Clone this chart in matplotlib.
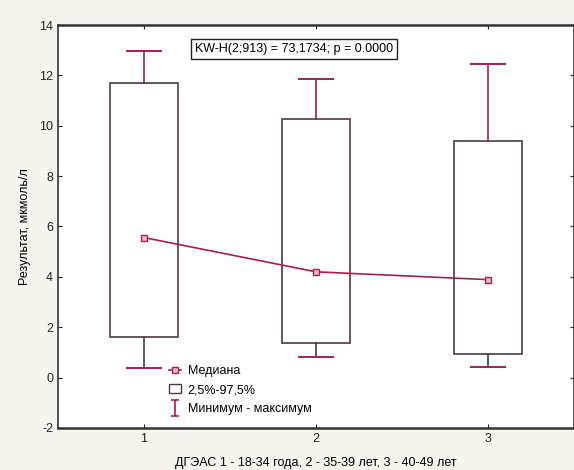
import matplotlib.pyplot as plt
from matplotlib.lines import Line2D
from matplotlib.patches import Rectangle
from matplotlib.path import Path

groups = [1, 2, 3]
medians = [5.56, 4.2, 3.89]
box_low = [1.63, 1.39, 0.95]    # 2,5%
box_high = [11.7, 10.28, 9.4]   # 97,5%
mins = [0.4, 0.83, 0.44]
maxs = [12.98, 11.87, 12.46]
yticks = [-2, 0, 2, 4, 6, 8, 10, 12, 14]

RED = '#a3204c'
EDGE = '#4a3a40'

plt.rcParams['font.family'] = ['Liberation Sans', 'DejaVu Sans']
plt.rcParams['axes.unicode_minus'] = False

fig = plt.figure(figsize=(5.74, 4.70), dpi=100, facecolor='#f6f4ef')
ax = fig.add_axes([0.101, 0.0894, 0.899, 0.8574])
ax.set_facecolor('white')

bw = 0.4
cw = 0.2
for x, lo, hi, mn, mx in zip(groups, box_low, box_high, mins, maxs):
    ax.add_patch(Rectangle((x - bw / 2, lo), bw, hi - lo, facecolor='white',
                           edgecolor=EDGE, lw=1.2, zorder=2))
    ax.plot([x, x], [hi, mx], color=RED, lw=1.2, zorder=2)
    ax.plot([x, x], [mn, lo], color=EDGE, lw=1.2, zorder=2)
    ax.plot([x - cw / 2, x + cw / 2], [mx, mx], color=RED, lw=1.4, zorder=2)
    ax.plot([x - cw / 2, x + cw / 2], [mn, mn], color=RED, lw=1.4, zorder=2)

ax.plot(groups, medians, color=RED, lw=1.2, marker='s', ms=4,
        mfc='#e9b8c8', mec=RED, zorder=3)

ax.set_xlim(0.5, 3.5)
ax.set_ylim(-2, 14)
ax.set_xticks(groups)
ax.set_yticks(yticks)
ax.tick_params(direction='in', length=3, labelsize=9, right=True, top=True,
               colors='#222222')
for s in ax.spines.values():
    s.set_color('#333333')
    s.set_linewidth(1.2)
ax.spines['bottom'].set_linewidth(1.8)
ax.spines['top'].set_linewidth(1.8)

ax.set_ylabel('Результат, мкмоль/л', fontsize=9, labelpad=6)
ax.set_xlabel('ДГЭАС 1 - 18-34 года, 2 - 35-39 лет, 3 - 40-49 лет',
              fontsize=9, labelpad=9)

ax.text(0.265, 0.955, 'KW-H(2;913) = 73,1734; p = 0.0000',
        transform=ax.transAxes, fontsize=9, ha='left', va='top',
        bbox=dict(boxstyle='square,pad=0.3', fc='white', ec='#222222', lw=1))

mm_path = Path([(-0.5, -1), (0.5, -1), (0, -1), (0, 1), (-0.5, 1), (0.5, 1)],
               [Path.MOVETO, Path.LINETO, Path.MOVETO, Path.LINETO,
                Path.MOVETO, Path.LINETO])
handles = [
    Line2D([], [], color=RED, marker='s', ms=4, mfc='#e9b8c8', mec=RED, lw=1.2),
    Rectangle((0, 0), 1, 1, fc='white', ec=EDGE, lw=1),
    Line2D([], [], color=RED, marker=mm_path, ms=12, ls='none', mew=1.2),
]
labels = ['Медиана', '2,5%-97,5%', 'Минимум - максимум']
ax.legend(handles, labels, loc='lower left', bbox_to_anchor=(0.205, 0.02),
          frameon=False, fontsize=9, handlelength=1.0, handletextpad=0.5,
          labelspacing=0.55, borderaxespad=0)

fig.savefig('out.png', dpi=100, facecolor=fig.get_facecolor())
